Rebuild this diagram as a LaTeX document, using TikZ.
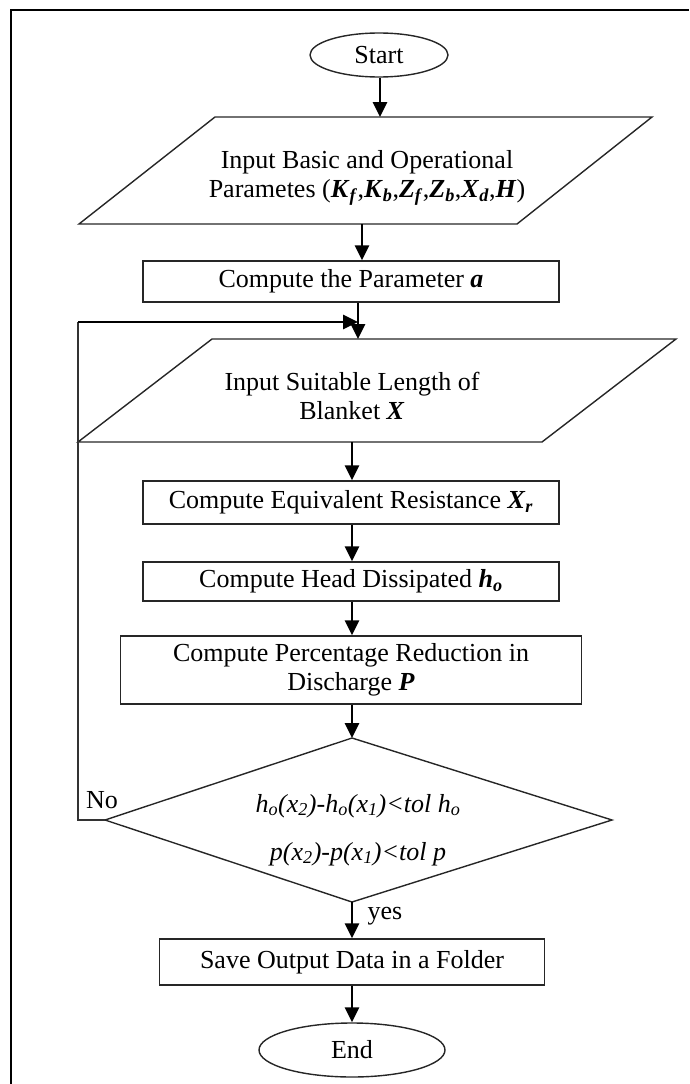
\documentclass[tikz,border=0pt]{standalone}
\usepackage{fontspec}
\setmainfont{Liberation Serif}
\usetikzlibrary{arrows.meta,shapes.geometric}
\newcommand{\bi}[1]{\textbf{\textit{#1}}}
\newcommand{\sbi}[1]{\textsubscript{\textbf{\textit{#1}}}}
\newcommand{\si}[1]{\textsubscript{\textit{#1}}}
\begin{document}
\begin{tikzpicture}[x=1pt,y=-1pt,
  font=\fontsize{26}{29}\selectfont,
  box/.style={draw=black!85, line width=1.4pt, inner sep=0pt, align=center},
  shp/.style={draw=black!85, line width=1.4pt},
  arr/.style={line width=2.8pt, -{Triangle[width=14pt,length=15pt]}},
  thinline/.style={draw=black!80, line width=1.6pt},
  txt/.style={align=center, inner sep=0pt}]
\useasboundingbox (0,0) rectangle (689,1084);
% frame
\draw[line width=2.2pt] (11,1084) -- (11,10) -- (689,10);

% start
\node[box, ellipse, minimum width=138pt, minimum height=44pt] (start) at (379,55) {Start};

% input 1
\draw[shp] (215,117) -- (652,117) -- (517,224) -- (79,224) -- cycle;
\node[txt] (p1) at (367,178) {Input Basic and Operational\\Parametes (\bi{K}\sbi{f},\bi{K}\sbi{b},\bi{Z}\sbi{f},\bi{Z}\sbi{b},\bi{X}\sbi{d},\bi{H})};
\coordinate (p1in) at (380,117);
\coordinate (p1out) at (362,224);

% compute a
\node[box, minimum width=416pt, minimum height=41pt] (c1) at (351,281.5) {\raisebox{-3pt}{Compute the Parameter \bi{a}}};

% input 2
\draw[shp] (212,339) -- (676,339) -- (542,442) -- (78,442) -- cycle;
\node[txt] (p2) at (352,396) {Input Suitable Length of\\Blanket \bi{X}};
\coordinate (p2in) at (358,339);
\coordinate (p2out) at (352,442);
\coordinate (loopc) at (358,322);

% computations
\node[box, minimum width=416pt, minimum height=43pt] (c2) at (351,502.5) {Compute Equivalent Resistance \bi{X}\sbi{r}};
\node[box, minimum width=416pt, minimum height=39pt] (c3) at (351,581.5) {Compute Head Dissipated \bi{h}\sbi{o}};
\node[box, minimum width=461pt, minimum height=68pt] (c4) at (351,670) {Compute Percentage Reduction in\\Discharge \bi{P}};

% decision
\coordinate (dN) at (352,738);
\coordinate (dE) at (612,820);
\coordinate (dS) at (352,902);
\coordinate (dW) at (105,820);
\draw[shp] (dN) -- (dE) -- (dS) -- (dW) -- cycle;
\node[txt, font=\fontsize{26}{29}\selectfont\itshape] (dt) at (358,830) {h\si{o}(x\si{2})-h\si{o}(x\si{1})<tol h\si{o}\\[19pt]p(x\si{2})-p(x\si{1})<tol p};
\node[txt] (no) at (102,800) {No};
\coordinate (lb) at (78,820);
\coordinate (lt) at (78,322);

% save and end
\node[box, minimum width=385pt, minimum height=46pt] (save) at (352,962) {Save Output Data in a Folder};
\node[box, ellipse, minimum width=186pt, minimum height=54pt] (end) at (352,1050) {End};
\node[txt] (yes) at (385,916) {yes};

% connectors
\draw[arr] (start.south -| p1in) -- (p1in);
\draw[arr] (p1out) -- (p1out |- c1.north);
\draw[arr] (c1.south -| p2in) -- (p2in);
\draw[thinline] (dW) -- (lb) -- (lt);
\draw[arr] (lt) -- (loopc);
\draw[arr] (p2out) -- (p2out |- c2.north);
\draw[arr] (c2.south -| p2out) -- (c3.north -| p2out);
\draw[arr] (c3.south -| p2out) -- (c4.north -| p2out);
\draw[arr] (c4.south -| dN) -- (dN);
\draw[arr] (dS) -- (save.north -| dS);
\draw[arr] (save.south -| dS) -- (end.north -| dS);
\end{tikzpicture}
\end{document}
